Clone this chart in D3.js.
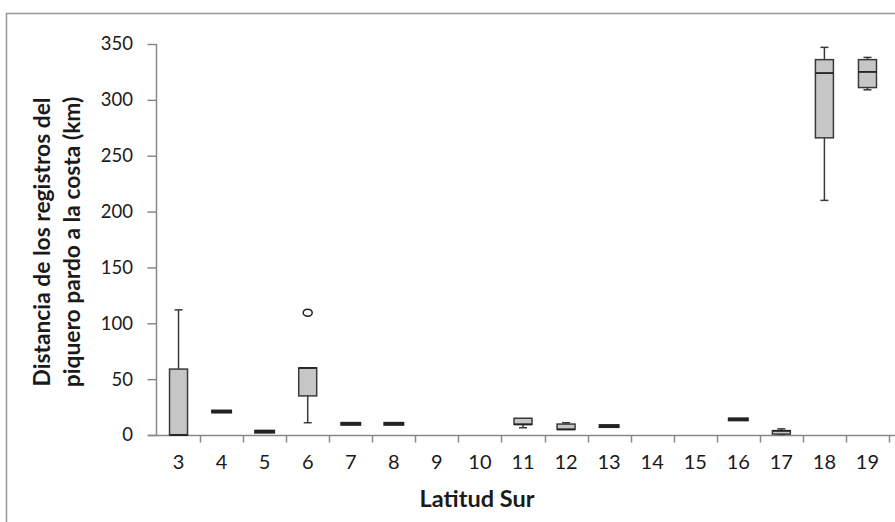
<!DOCTYPE html>
<html>
<head>
<meta charset="utf-8">
<script src="https://cdn.jsdelivr.net/npm/d3@7"></script>
<style>
  html, body { margin: 0; padding: 0; background: #fff; }
  svg { display: block; font-family: Lato, "Open Sans", sans-serif; }
</style>
</head>
<body>
<div id="chart"></div>
<script>
// ── Data (km from coast, by latitude south) ──────────────────────────────
const LATITUDES = ['3', '4', '5', '6', '7', '8', '9', '10', '11', '12', '13', '14', '15', '16', '17', '18', '19'];
const WHISKER_LOW  = [0,   21, 3, 11,  10, 10, null, null, 6.5, 5,   8, null, null, 14, 0.5, 210, 309];
const Q1           = [0,   21, 3, 35,  10, 10, null, null, 9.5, 5,   8, null, null, 14, 0.8, 266, 311];
const MEDIAN       = [0,   21, 3, 60,  10, 10, null, null, 9.5, 5,   8, null, null, 14, 3.8, 324, 325];
const Q3           = [59,  21, 3, 60,  10, 10, null, null, 15,  9.8, 8, null, null, 14, 3.8, 336, 336];
const WHISKER_HIGH = [112, 21, 3, 60,  10, 10, null, null, 15,  11,  8, null, null, 14, 5.5, 347, 338];
const OUTLIERS     = [[], [], [], [109.5], [], [], [], [], [], [], [], [], [], [], [], [], []];
const Y_TICKS = [0, 50, 100, 150, 200, 250, 300, 350];

const width = 895, height = 522;
const svg = d3.select('#chart').append('svg')
  .attr('width', width).attr('height', height);

// outer frame (top + left only visible)
svg.append('path')
  .attr('d', 'M6.5,522 V13.5 H895')
  .attr('fill', 'none').attr('stroke', '#999').attr('stroke-width', 1.5);

const x = d3.scaleBand().domain(LATITUDES).range([157, 889]).padding(0);
const y = d3.scaleLinear().domain([0, 350]).range([435, 44]);

// Y axis
const yAxis = svg.append('g')
  .attr('transform', 'translate(156.5,0)')
  .call(d3.axisLeft(y).tickValues(Y_TICKS).tickSize(9).tickPadding(14.5).tickFormat(d3.format('d')));
yAxis.select('.domain').attr('stroke', '#888').attr('stroke-width', 1.5)
  .attr('d', `M0,${y(350)}V${y(0)}`);
yAxis.selectAll('.tick line').attr('stroke', '#888').attr('stroke-width', 1.5);
yAxis.selectAll('.tick text').attr('font-size', 18.5).attr('fill', '#1a1a1a')
  .attr('font-family', 'Lato, sans-serif');

// X axis – ticks on band boundaries
const xAxisG = svg.append('g').attr('transform', `translate(0,${y(0) + 0.5})`);
xAxisG.append('line')
  .attr('x1', 148).attr('x2', 895)
  .attr('stroke', '#888').attr('stroke-width', 1.5);
const bounds = LATITUDES.map(c => x(c)).concat([x(LATITUDES[LATITUDES.length - 1]) + x.bandwidth()]);
xAxisG.selectAll('.xtick').data(bounds.slice(1)).enter().append('line')
  .attr('x1', d => Math.round(d) + 0.5).attr('x2', d => Math.round(d) + 0.5)
  .attr('y1', 0).attr('y2', 7)
  .attr('stroke', '#888').attr('stroke-width', 1.5);
xAxisG.selectAll('.xlab').data(LATITUDES).enter().append('text')
  .attr('x', d => x(d) + x.bandwidth() / 2)
  .attr('y', 33)
  .attr('text-anchor', 'middle')
  .attr('font-size', 20).attr('fill', '#1a1a1a')
  .text(d => d);

// Axis titles
svg.append('text')
  .attr('x', 477).attr('y', 507)
  .attr('text-anchor', 'middle')
  .attr('font-size', 23.5).attr('font-weight', 700).attr('fill', '#1a1a1a')
  .text('Latitud Sur');

const yTitle = svg.append('text')
  .attr('transform', 'translate(0,242) rotate(-90)')
  .attr('text-anchor', 'middle')
  .attr('font-size', 22.8).attr('font-weight', 700).attr('fill', '#1a1a1a');
yTitle.append('tspan').attr('x', 0).attr('y', 50).text('Distancia de los registros del');
yTitle.append('tspan').attr('x', 0).attr('y', 80).text('piquero pardo a la costa (km)');

// Boxes
const boxW = 18, capW = 8;
const stroke = '#3a3a3a';
const plot = svg.append('g');
LATITUDES.forEach((c, i) => {
  if (Q1[i] === null) return;
  const cx = x(c) + x.bandwidth() / 2;
  const g = plot.append('g');
  // whiskers
  g.append('line').attr('x1', cx).attr('x2', cx)
    .attr('y1', y(WHISKER_HIGH[i])).attr('y2', y(Q3[i]))
    .attr('stroke', stroke).attr('stroke-width', 1.5);
  g.append('line').attr('x1', cx).attr('x2', cx)
    .attr('y1', y(Q1[i])).attr('y2', y(WHISKER_LOW[i]))
    .attr('stroke', stroke).attr('stroke-width', 1.5);
  if (WHISKER_HIGH[i] > Q3[i]) {
    g.append('line').attr('x1', cx - capW / 2).attr('x2', cx + capW / 2)
      .attr('y1', y(WHISKER_HIGH[i])).attr('y2', y(WHISKER_HIGH[i]))
      .attr('stroke', stroke).attr('stroke-width', 1.5);
  }
  if (WHISKER_LOW[i] < Q1[i]) {
    g.append('line').attr('x1', cx - capW / 2).attr('x2', cx + capW / 2)
      .attr('y1', y(WHISKER_LOW[i])).attr('y2', y(WHISKER_LOW[i]))
      .attr('stroke', stroke).attr('stroke-width', 1.5);
  }
  const degenerate = Q1[i] === Q3[i];
  // box
  g.append('rect')
    .attr('x', cx - (degenerate ? 10.5 : boxW / 2)).attr('width', degenerate ? 21 : boxW)
    .attr('y', y(Q3[i])).attr('height', y(Q1[i]) - y(Q3[i]))
    .attr('fill', '#c6c6c6').attr('stroke', stroke).attr('stroke-width', 1.5);
  // median
  g.append('line')
    .attr('x1', cx - (degenerate ? 10.5 : boxW / 2)).attr('x2', cx + (degenerate ? 10.5 : boxW / 2))
    .attr('y1', y(MEDIAN[i])).attr('y2', y(MEDIAN[i]))
    .attr('stroke', '#222').attr('stroke-width', degenerate ? 4 : 1.8);
  // outliers
  OUTLIERS[i].forEach(v => {
    g.append('ellipse').attr('cx', cx).attr('cy', y(v))
      .attr('rx', 4.5).attr('ry', 3.5)
      .attr('fill', 'none').attr('stroke', '#222').attr('stroke-width', 1.5);
  });
});
</script>
</body>
</html>
